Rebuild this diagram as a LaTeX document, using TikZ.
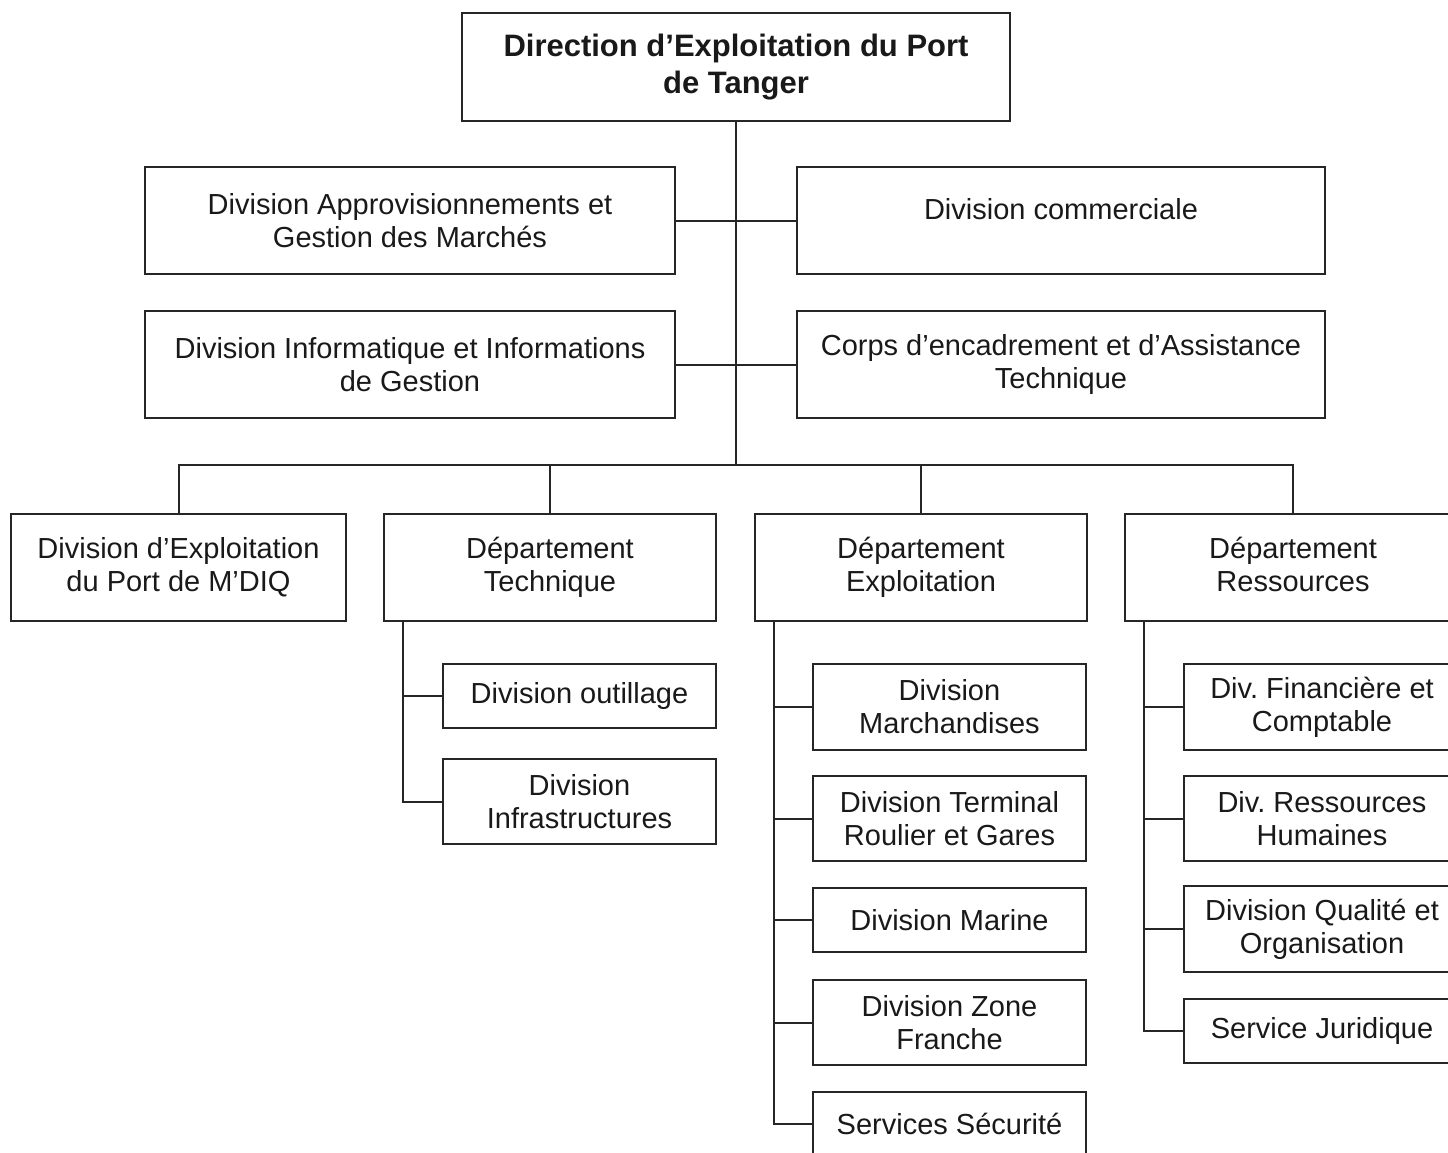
\documentclass[tikz,border=0pt]{standalone}
\usepackage{fontspec}
\setmainfont{Liberation Sans}

\begin{document}
\begin{tikzpicture}[x=1pt,y=-1pt,
  box/.style={draw=black!85,line width=2pt,align=center,inner sep=0pt,text=black!90,
    font=\fontsize{29}{33}\selectfont,minimum width=273,minimum height=85},
  link/.style={draw=black!85,line width=2pt}]
\useasboundingbox (0,0) rectangle (1448,1152);
\clip (0,0) rectangle (1448,1152);
\node[box,minimum width=548,minimum height=108,font=\bfseries\fontsize{31}{37}\selectfont] (dir) at (736,67) {Direction d’Exploitation du Port\\de Tanger};
\node[box,minimum width=530,minimum height=107] (appro) at (410,220.5) {Division Approvisionnements et\\Gestion des Marchés};
\node[box,minimum width=528,minimum height=107,text depth=24pt] (comm)  at (1061,220.5) {Division commerciale};
\node[box,minimum width=530,minimum height=107] (info)  at (410,364.5) {Division Informatique et Informations\\de Gestion};
\node[box,minimum width=528,minimum height=107] (corps) at (1061,364.5) {Corps d’encadrement et d’Assistance\\Technique};
\node[box,minimum width=335,minimum height=107] (mdiq) at (178.5,567.5) {Division d’Exploitation\\du Port de M’DIQ};
\node[box,minimum width=332,minimum height=107] (tech) at (550,567.5) {Département\\Technique};
\node[box,minimum width=332,minimum height=107] (expl) at (921,567.5) {Département\\Exploitation};
\node[box,minimum width=336,minimum height=107] (ress) at (1293,567.5) {Département\\Ressources\vphantom{q}};
% Departement Technique
\node[box,minimum height=64] (outil) at (579.5,696) {Division outillage};
\node[box] (infra) at (579.5,801.5) {Division\\Infrastructures};
% Departement Exploitation
\node[box,minimum height=86] (march) at (949.5,707) {Division\\Marchandises};
\node[box] (term) at (949.5,818.5) {Division Terminal\\Roulier et Gares};
\node[box,minimum height=64] (marine) at (949.5,920) {Division Marine};
\node[box] (zone) at (949.5,1022.5) {Division Zone\\Franche};
\node[box,minimum height=64] (secu) at (949.5,1124) {Services Sécurité};
% Departement Ressources
\node[box,minimum width=276,minimum height=86] (fin) at (1322,707) {Div.\ Financière et\\Comptable};
\node[box,minimum width=276] (rh) at (1322,818.5) {Div.\ Ressources\\Humaines};
\node[box,minimum width=276,minimum height=86] (qual) at (1322,929) {Division Qualité et\\Organisation};
\node[box,minimum width=276,minimum height=64] (jur) at (1322,1031) {Service Juridique};

\coordinate (bus) at (736,465);
\draw[link] (dir.south) -- (bus);
\draw[link] (appro.east) -- (comm.west);
\draw[link] (info.east) -- (corps.west);
\draw[link] (mdiq.north) |- (bus) -| (ress.north);
\foreach \n in {tech,expl} \draw[link] (\n.north) -- (\n.north |- bus);

\coordinate (ts) at ([xshift=20]tech.south west);
\draw[link] (ts) |- (infra.west);
\draw[link] (outil.west) -- (outil.west -| ts);

\coordinate (es) at ([xshift=20]expl.south west);
\draw[link] (es) |- (secu.west);
\foreach \n in {march,term,marine,zone} \draw[link] (\n.west) -- (\n.west -| es);

\coordinate (rs) at ([xshift=20]ress.south west);
\draw[link] (rs) |- (jur.west);
\foreach \n in {fin,rh,qual} \draw[link] (\n.west) -- (\n.west -| rs);
\end{tikzpicture}
\end{document}
